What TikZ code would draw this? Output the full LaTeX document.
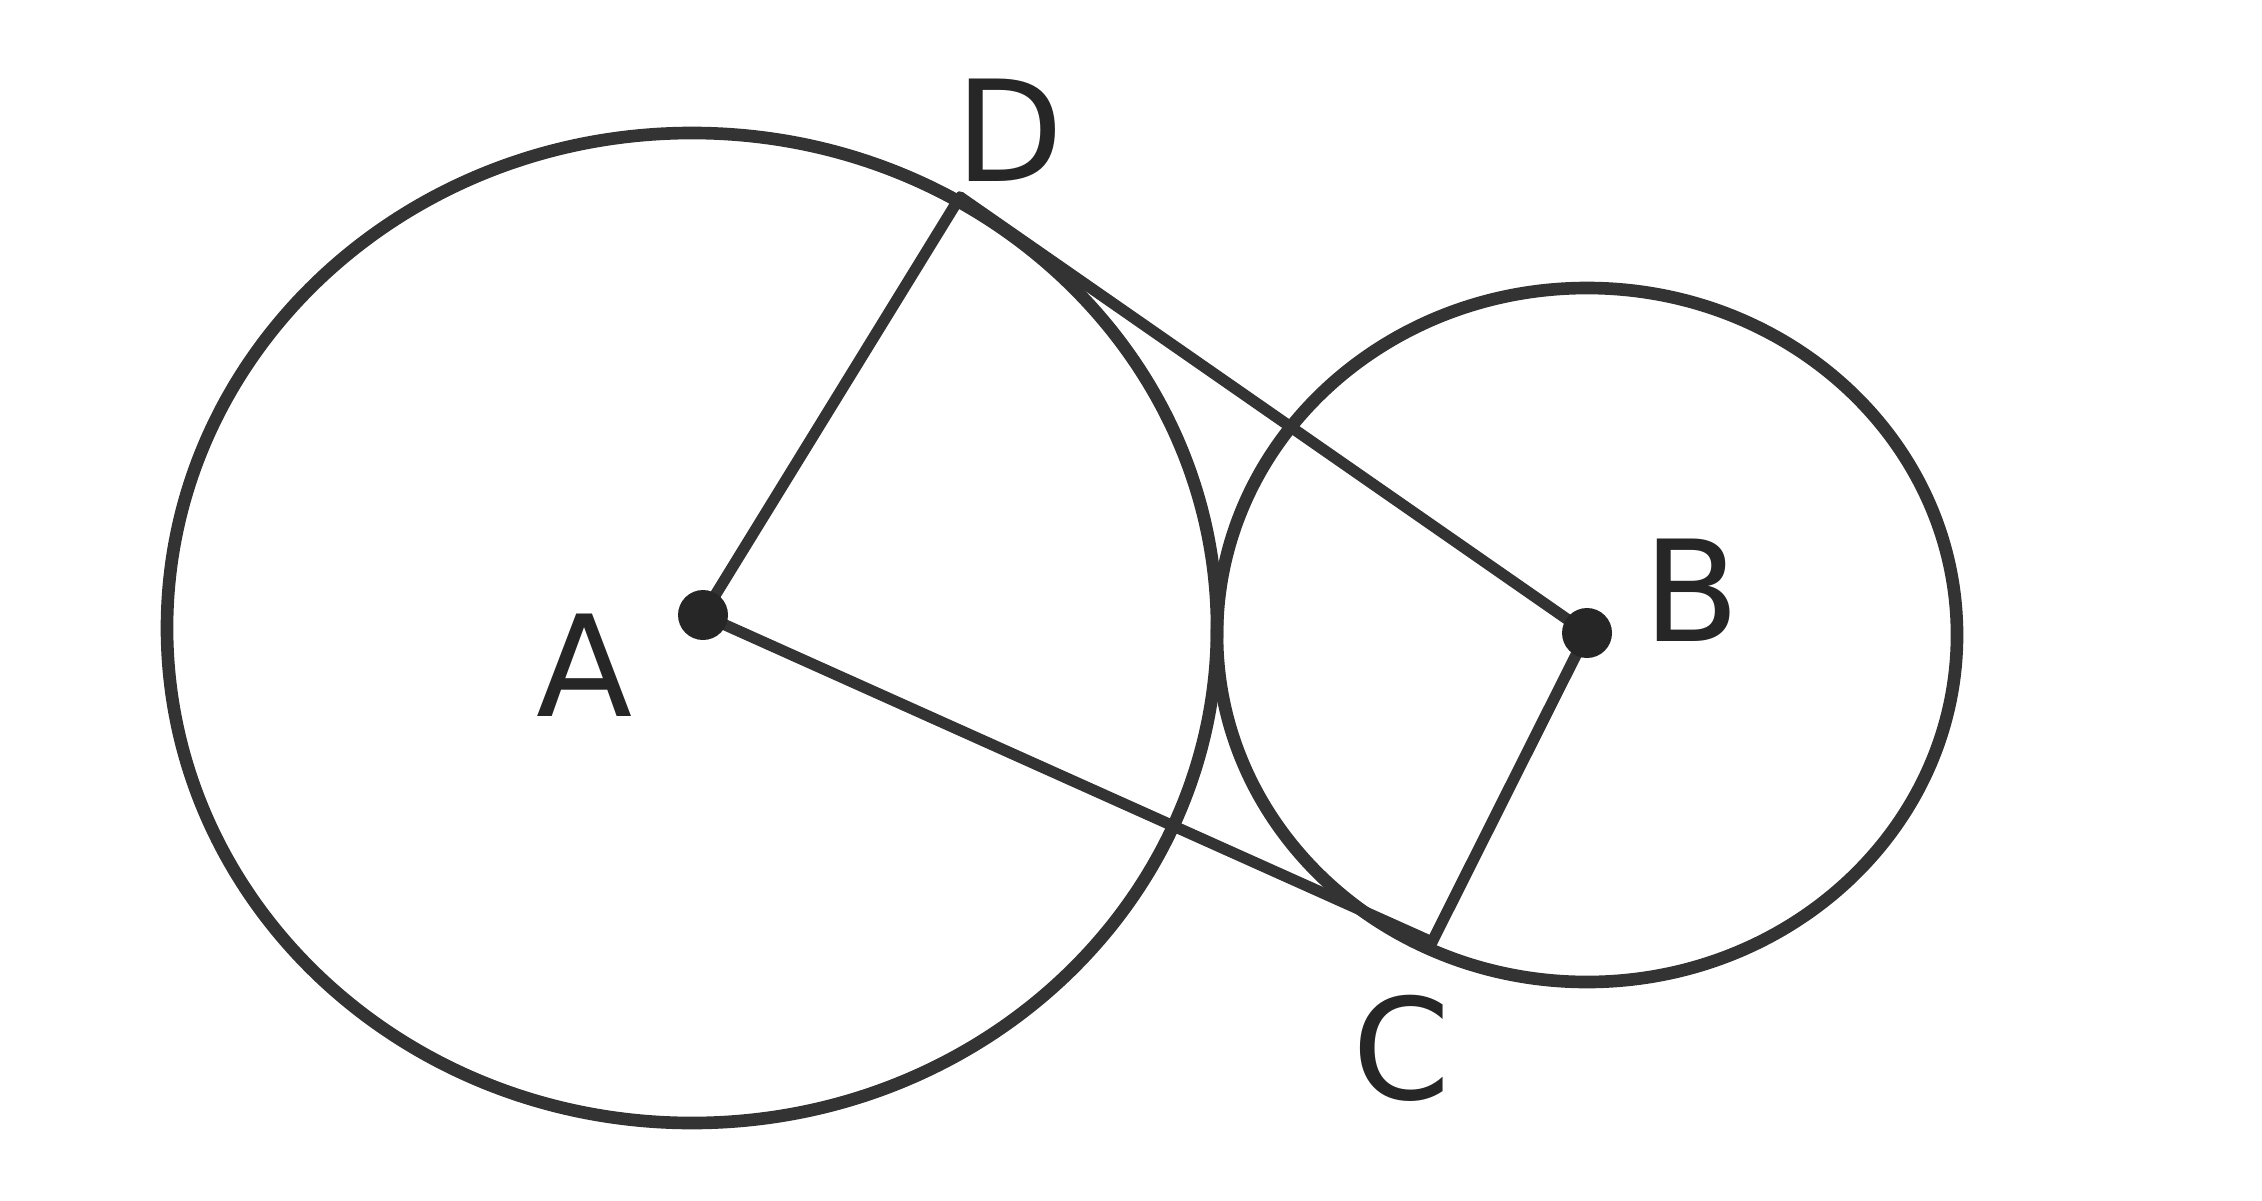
\documentclass[tikz,border=0pt]{standalone}
\usepackage{fontspec}
\setsansfont{DejaVu Sans}
\begin{document}
\begin{tikzpicture}[x=0.1mm,y=-0.1mm,
  ink/.style={draw=black!80, line width=3.6pt},
  seg/.style={draw=black!80, line width=3.2pt, line cap=round, line join=round},
  centre/.style={circle, fill=black!85, inner sep=0pt, minimum size=5mm},
  lab/.style={text=black!85, font=\sffamily\fontsize{40}{44}\selectfont, inner sep=0pt}]
\useasboundingbox (0,0) rectangle (2262,1200);
% circles
\draw[ink] (692,628) ellipse [x radius=525, y radius=495];
\draw[ink] (1587,635) ellipse [x radius=370, y radius=347];
% points
\coordinate (A) at (703,615);
\coordinate (B) at (1587,633);
\coordinate (D) at (960,197);
\coordinate (C) at (1432,942);
% segments
\draw[seg] (A) -- (D);
\draw[seg] (D) -- (B);
\draw[seg] (A) -- (C);
\draw[seg] (C) -- (B);
% centre dots
\node[centre] (dotA) at (A) {};
\node[centre] (dotB) at (B) {};
% labels
\node[lab] (lA) at (585,665) {A};
\node[lab] (lB) at (1692,590) {B};
\node[lab] (lD) at (1010,130) {D};
\node[lab] (lC) at (1402,1048) {C};
\end{tikzpicture}
\end{document}
